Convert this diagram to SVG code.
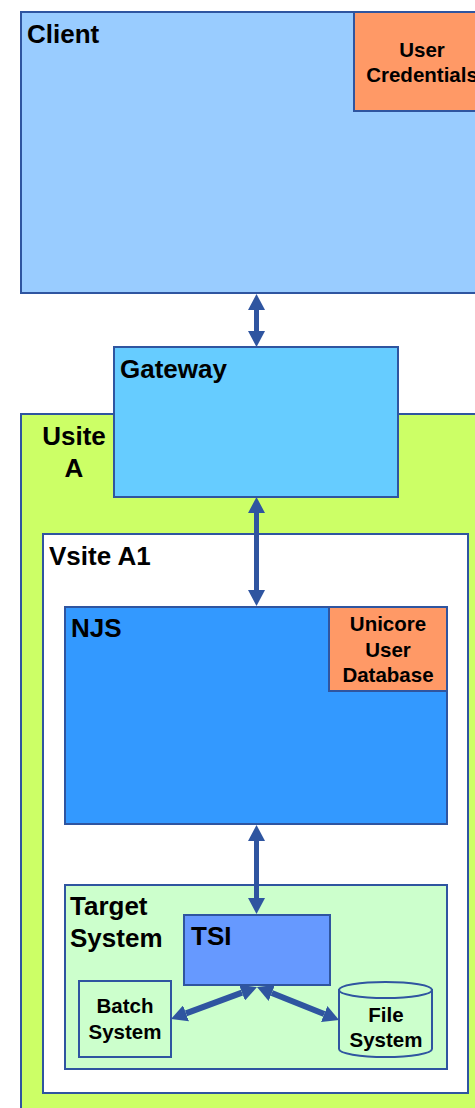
<svg xmlns="http://www.w3.org/2000/svg" width="475" height="1108" viewBox="0 0 475 1108">
<style>
.box{stroke:#2f55a0;stroke-width:2}
.big{font-family:"Liberation Sans",Arial,sans-serif;font-weight:bold;font-size:26px;fill:#000}
.sm{font-family:"Liberation Sans",Arial,sans-serif;font-weight:bold;font-size:20.5px;fill:#000;text-anchor:middle}
.conn{stroke:#2f55a0;fill:none}
</style>
<defs>
<marker id="ah" markerUnits="userSpaceOnUse" markerWidth="16" markerHeight="17" viewBox="0 0 16 17" refX="0" refY="8.5" orient="auto-start-reverse">
<path d="M0,0 L16,8.5 L0,17 z" fill="#2f55a0"/>
</marker>
</defs>
<g id="client">
<rect class="box" x="21" y="12" width="470" height="281" fill="#99ccff"/>
<text class="big" x="27" y="43">Client</text>
</g>
<g id="user-credentials">
<rect class="box" x="354" y="12" width="140" height="99" fill="#ff9966"/>
<text class="sm" x="422" y="57">User</text>
<text class="sm" x="422" y="82">Credentials</text>
</g>
<g id="usite-a">
<rect class="box" x="21" y="414" width="470" height="710" fill="#ccff66"/>
<text class="big" x="74" y="445" text-anchor="middle">Usite</text>
<text class="big" x="74" y="477" text-anchor="middle">A</text>
</g>
<g id="gateway">
<rect class="box" x="114" y="347" width="284" height="150" fill="#66ccff"/>
<text class="big" x="120" y="378">Gateway</text>
</g>
<g id="vsite-a1">
<rect class="box" x="43" y="534" width="425" height="559" fill="#ffffff"/>
<text class="big" x="49" y="565">Vsite A1</text>
</g>
<g id="njs">
<rect class="box" x="65" y="607" width="382" height="217" fill="#3399ff"/>
<text class="big" x="71" y="637">NJS</text>
</g>
<g id="unicore-user-database">
<rect class="box" x="329" y="607" width="118" height="84" fill="#ff9966"/>
<text class="sm" x="388" y="631">Unicore</text>
<text class="sm" x="388" y="657">User</text>
<text class="sm" x="388" y="682">Database</text>
</g>
<g id="target-system">
<rect class="box" x="65" y="885" width="382" height="184" fill="#ccffcc"/>
<text class="big" x="70" y="915">Target</text>
<text class="big" x="70" y="947">System</text>
</g>
<g id="tsi">
<rect class="box" x="184" y="915" width="146" height="70" fill="#6699ff"/>
<text class="big" x="191" y="945">TSI</text>
</g>
<g id="batch-system">
<rect class="box" x="79" y="981" width="92" height="76" fill="#ccffcc"/>
<text class="sm" x="125" y="1013">Batch</text>
<text class="sm" x="125" y="1039">System</text>
</g>
<g id="file-system">
<path class="box" d="M339,990 L339,1049 A46.5,8 0 0 0 432,1049 L432,990 Z" fill="#ccffcc"/>
<ellipse class="box" cx="385.5" cy="990" rx="46.5" ry="8" fill="#ccffcc"/>
<text class="sm" x="386" y="1022">File</text>
<text class="sm" x="386" y="1047">System</text>
</g>
<g id="connectors">
<line class="conn" x1="256.5" y1="310" x2="256.5" y2="331" stroke-width="5" marker-start="url(#ah)" marker-end="url(#ah)"/>
<line class="conn" x1="256.5" y1="513" x2="256.5" y2="590" stroke-width="5" marker-start="url(#ah)" marker-end="url(#ah)"/>
<line class="conn" x1="256.5" y1="841" x2="256.5" y2="898" stroke-width="5" marker-start="url(#ah)" marker-end="url(#ah)"/>
<line class="conn" x1="242" y1="992.6" x2="186" y2="1013.4" stroke-width="6" marker-start="url(#ah)" marker-end="url(#ah)"/>
<line class="conn" x1="271.8" y1="993" x2="324.2" y2="1014" stroke-width="6" marker-start="url(#ah)" marker-end="url(#ah)"/>
</g>
</svg>
